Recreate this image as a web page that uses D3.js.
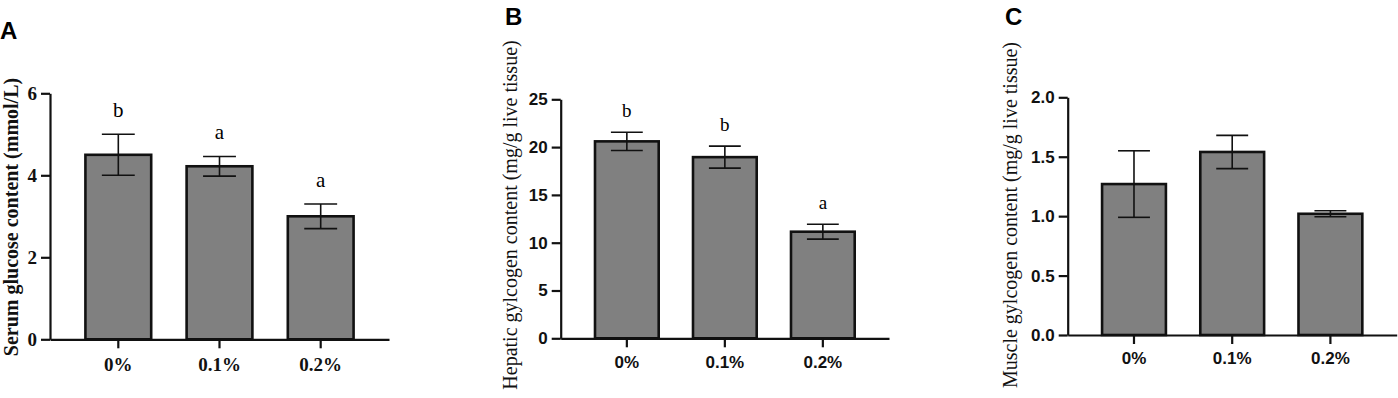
<!DOCTYPE html>
<html>
<head>
<meta charset="utf-8">
<script src="https://cdn.jsdelivr.net/npm/d3@7"></script>
<style>
  body { margin: 0; background: #fff; }
  svg { display: block; }
</style>
</head>
<body>
<svg id="chart" width="1398" height="398"></svg>
<script>
// data
const groups = ['0%', '0.1%', '0.2%'];

const serumMean = [4.5, 4.22, 3.0];
const serumErr = [0.5, 0.24, 0.3];
const serumLetters = ['b', 'a', 'a'];
const serumTicks = [0, 2, 4, 6];

const hepaticMean = [20.6, 18.95, 11.15];
const hepaticErr = [0.95, 1.15, 0.78];
const hepaticLetters = ['b', 'b', 'a'];
const hepaticTicks = [0, 5, 10, 15, 20, 25];

const muscleMean = [1.27, 1.54, 1.02];
const muscleErr = [0.28, 0.14, 0.025];
const muscleTicks = [0, 0.5, 1.0, 1.5, 2.0];

const SERIF = '"Liberation Serif", "Times New Roman", serif';
const SANS = '"Liberation Sans", Arial, sans-serif';

const svg = d3.select('#chart');

function drawPanel (p) {
    var g = svg.append('g');

    var x = d3.scaleBand()
        .domain(groups)
        .range([p.x0, p.x1])
        .paddingInner(0.35)
        .paddingOuter(0.35);
    var y = d3.scaleLinear()
        .domain([0, p.max])
        .range([p.y0, p.y1]);

    var data = groups.map((d, i) => ({ group: d, mean: p.mean[i], err: p.err[i], letter: p.letters ? p.letters[i] : null }));

    // bars
    g.selectAll('rect.bar')
        .data(data)
        .enter().append('rect')
        .attr('class', 'bar')
        .attr('x', d => x(d.group))
        .attr('width', x.bandwidth())
        .attr('y', d => y(d.mean))
        .attr('height', d => y(0) - y(d.mean))
        .attr('fill', '#808080')
        .attr('stroke', '#111')
        .attr('stroke-width', 2.6);

    // error bars
    var cap = x.bandwidth() / 4;
    var eb = g.selectAll('g.err')
        .data(data)
        .enter().append('g')
        .attr('class', 'err')
        .attr('stroke', '#111')
        .attr('stroke-width', 1.6);
    eb.append('line')
        .attr('x1', d => x(d.group) + x.bandwidth() / 2)
        .attr('x2', d => x(d.group) + x.bandwidth() / 2)
        .attr('y1', d => y(d.mean - d.err))
        .attr('y2', d => y(d.mean + d.err));
    eb.append('line')
        .attr('x1', d => x(d.group) + x.bandwidth() / 2 - cap)
        .attr('x2', d => x(d.group) + x.bandwidth() / 2 + cap)
        .attr('y1', d => y(d.mean + d.err))
        .attr('y2', d => y(d.mean + d.err));
    eb.append('line')
        .attr('x1', d => x(d.group) + x.bandwidth() / 2 - cap)
        .attr('x2', d => x(d.group) + x.bandwidth() / 2 + cap)
        .attr('y1', d => y(d.mean - d.err))
        .attr('y2', d => y(d.mean - d.err));

    // significance letters
    if (p.letters) {
        g.selectAll('text.letter')
            .data(data)
            .enter().append('text')
            .attr('class', 'letter')
            .attr('x', d => x(d.group) + x.bandwidth() / 2)
            .attr('y', d => y(d.mean + d.err) - p.letterGap)
            .attr('text-anchor', 'middle')
            .style('font-family', SERIF)
            .style('font-size', p.letterSize + 'px')
            .text(d => d.letter);
    }

    // axes
    var yAxis = g.append('g')
        .attr('transform', `translate(${p.x0},0)`)
        .call(d3.axisLeft(y).tickValues(p.ticks).tickFormat(p.fmt).tickSize(9).tickSizeOuter(0).tickPadding(4));
    var xAxis = g.append('g')
        .attr('transform', `translate(0,${p.y0})`)
        .call(d3.axisBottom(x).tickSize(9).tickSizeOuter(0).tickPadding(p.xPad));

    [yAxis, xAxis].forEach(a => {
        a.select('.domain').attr('stroke', '#111').attr('stroke-width', 2.2);
        a.selectAll('.tick line').attr('stroke', '#111').attr('stroke-width', 2.2);
        a.selectAll('text')
            .attr('fill', '#111')
            .style('font-family', p.tickFont)
            .style('font-weight', 'bold');
    });
    yAxis.selectAll('text').style('font-size', p.tickSize + 'px');
    xAxis.selectAll('text').style('font-size', p.catSize + 'px');

    // y label
    g.append('text')
        .attr('transform', `translate(${p.labelX},${p.labelY}) rotate(-90)`)
        .attr('text-anchor', 'middle')
        .style('font-family', SERIF)
        .style('font-size', p.labelSize + 'px')
        .style('font-weight', p.labelWeight)
        .attr('fill', '#111')
        .text(p.label);

    // panel letter
    svg.append('text')
        .attr('x', p.tagX)
        .attr('y', p.tagY)
        .style('font-family', SANS)
        .style('font-size', '24px')
        .style('font-weight', 'bold')
        .text(p.tag);
}

drawPanel({
    tag: 'A', tagX: 0, tagY: 39,
    x0: 50, x1: 389, y0: 339.3, y1: 93.3, max: 6,
    mean: serumMean, err: serumErr, letters: serumLetters,
    letterGap: 17, letterSize: 21,
    ticks: serumTicks, fmt: d3.format('d'),
    tickFont: SERIF, tickSize: 19, catSize: 19, xPad: 9,
    label: 'Serum glucose content (mmol/L)', labelX: 18, labelY: 217, labelWeight: 'bold', labelSize: 20
});

drawPanel({
    tag: 'B', tagX: 505, tagY: 25,
    x0: 560.7, x1: 889, y0: 338.3, y1: 99.3, max: 25,
    mean: hepaticMean, err: hepaticErr, letters: hepaticLetters,
    letterGap: 15, letterSize: 19,
    ticks: hepaticTicks, fmt: d3.format('d'),
    tickFont: SANS, tickSize: 17, catSize: 17, xPad: 9,
    label: 'Hepatic gylcogen content (mg/g live tissue)', labelX: 517, labelY: 215, labelWeight: 'normal', labelSize: 20
});

drawPanel({
    tag: 'C', tagX: 1005, tagY: 25,
    x0: 1067.7, x1: 1396.7, y0: 335, y1: 97.3, max: 2,
    mean: muscleMean, err: muscleErr, letters: null,
    ticks: muscleTicks, fmt: d3.format('.1f'),
    tickFont: SANS, tickSize: 17, catSize: 17, xPad: 8,
    label: 'Muscle gylcogen content (mg/g live tissue)', labelX: 1017, labelY: 215, labelWeight: 'normal', labelSize: 20
});
</script>
</body>
</html>
